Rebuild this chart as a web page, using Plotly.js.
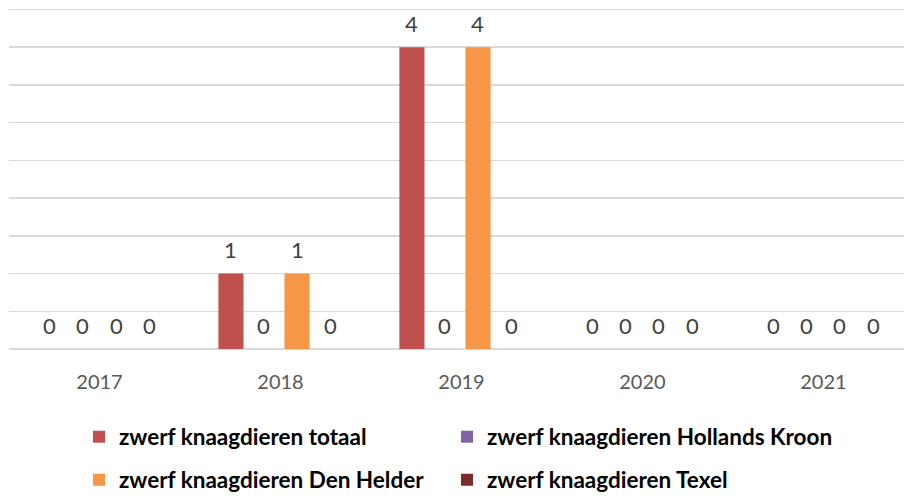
<!DOCTYPE html>
<html>
<head>
<meta charset="utf-8">
<script src="https://cdn.plot.ly/plotly-3.0.1.min.js"></script>
<style>html,body{margin:0;padding:0;background:#fff;}#chart{width:904px;height:496px;}</style>
</head>
<body>
<div id="chart"></div>
<script>
const years = ['2017', '2018', '2019', '2020', '2021'];
const seriesNames = [
  'zwerf knaagdieren totaal',
  'zwerf knaagdieren Hollands Kroon',
  'zwerf knaagdieren Den Helder',
  'zwerf knaagdieren Texel'
];
const totaal = [0, 1, 4, 0, 0];
const hollandsKroon = [0, 0, 0, 0, 0];
const denHelder = [0, 1, 4, 0, 0];
const texel = [0, 0, 0, 0, 0];
const colors = ['#C0504D', '#8064A2', '#F79646', '#7B2B2A'];

const seriesValues = [totaal, hollandsKroon, denHelder, texel];
const legendIds = ['legend', 'legend2', 'legend3', 'legend4'];

const W = 904, H = 496;
const margin = {l: 9, r: 0, t: 8, b: 147};
const xRange = [-0.5, 4.445];
const bargap = 0.27;
const plotW = W - margin.l - margin.r;
const catPx = plotW / (xRange[1] - xRange[0]);
const pitch = catPx * (1 - bargap) / seriesValues.length;

const traces = seriesValues.map((vals, s) => ({
  type: 'bar',
  name: seriesNames[s],
  x: years,
  y: vals,
  marker: {color: colors[s]},
  legend: legendIds[s],
  hoverinfo: 'none'
}));

const annotations = [];
seriesValues.forEach((vals, s) => {
  vals.forEach((v, i) => {
    annotations.push({
      x: i, y: v, xref: 'x', yref: 'y',
      text: String(v), showarrow: false,
      xanchor: 'center', yanchor: 'middle',
      xshift: (s - (seriesValues.length - 1) / 2) * pitch,
      yshift: 24,
      font: {family: 'Lato, sans-serif', size: 22, color: '#404040'}
    });
  });
});

const legendCommon = {
  orientation: 'h',
  xref: 'container', yref: 'container',
  xanchor: 'left', yanchor: 'middle',
  font: {family: 'Lato, sans-serif', size: 22.5, color: '#000', weight: 'bold'},
  bgcolor: 'rgba(0,0,0,0)',
  traceorder: 'normal'
};

const colX = [79, 447];
const rowY = [437, 480];

const layout = {
  width: W, height: H,
  margin: margin,
  paper_bgcolor: '#fff', plot_bgcolor: '#fff',
  barmode: 'group',
  bargap: bargap,
  bargroupgap: 0.24,
  showlegend: true,
  xaxis: {
    type: 'category',
    range: xRange,
    showgrid: false,
    zeroline: false,
    showline: false,
    ticks: 'outside', ticklen: 15, tickcolor: 'rgba(0,0,0,0)',
    tickfont: {family: 'Lato, sans-serif', size: 20, color: '#595959'},
    fixedrange: true
  },
  yaxis: {
    range: [0, 4.52],
    tickvals: [0, 0.5, 1, 1.5, 2, 2.5, 3, 3.5, 4, 4.5],
    showticklabels: false,
    showgrid: true,
    gridcolor: '#D9D9D9',
    gridwidth: 1.5,
    zeroline: true,
    zerolinecolor: '#D9D9D9',
    zerolinewidth: 1.5,
    fixedrange: true
  },
  legend:  Object.assign({}, legendCommon, {x: colX[0] / W, y: 1 - rowY[0] / H}),
  legend2: Object.assign({}, legendCommon, {x: colX[1] / W, y: 1 - rowY[0] / H}),
  legend3: Object.assign({}, legendCommon, {x: colX[0] / W, y: 1 - rowY[1] / H}),
  legend4: Object.assign({}, legendCommon, {x: colX[1] / W, y: 1 - rowY[1] / H}),
  annotations: annotations
};

Plotly.newPlot('chart', traces, layout, {staticPlot: true, displayModeBar: false});
</script>
</body>
</html>
